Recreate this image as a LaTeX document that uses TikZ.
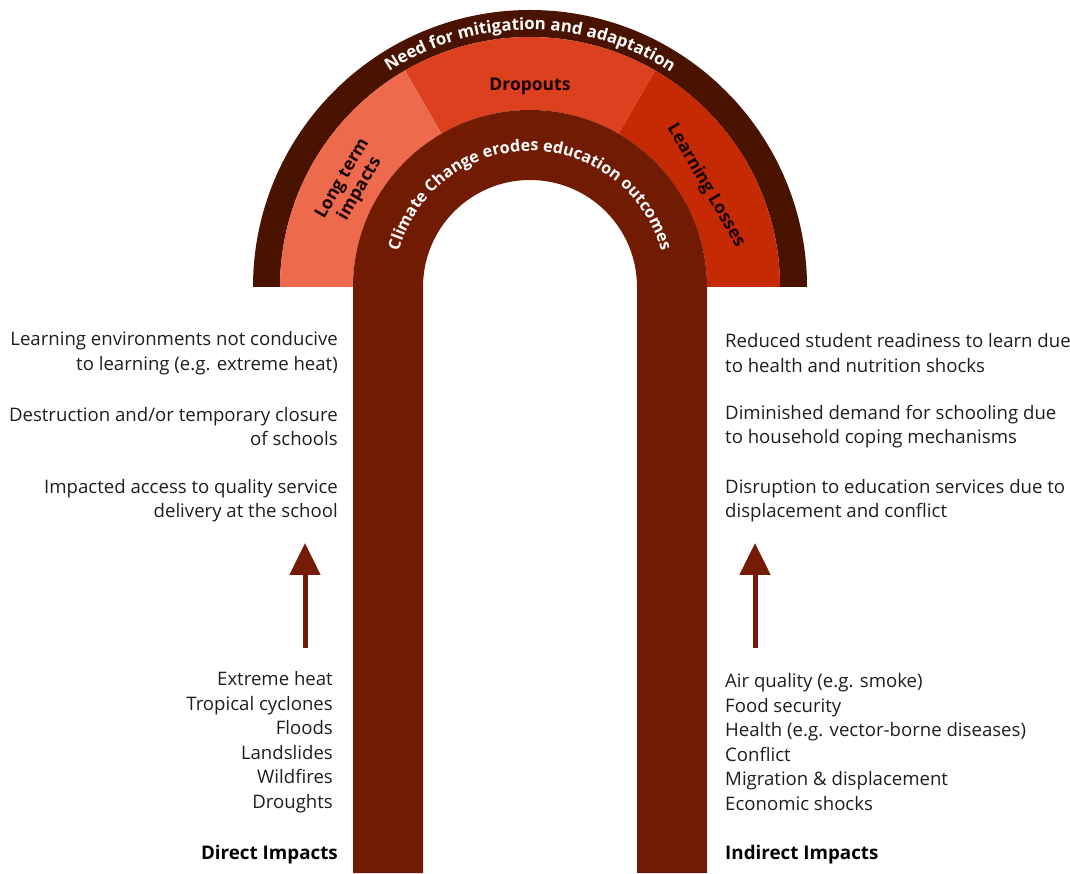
\documentclass[tikz,border=0pt]{standalone}
\usepackage{fontspec}
\setmainfont{Open Sans}
\usetikzlibrary{decorations.text,arrows.meta}
\definecolor{ringdark}{HTML}{4A1300}
\definecolor{tubebrown}{HTML}{721B03}
\definecolor{longred}{HTML}{EE6A4D}
\definecolor{dropred}{HTML}{DC401E}
\definecolor{lossred}{HTML}{C52A05}
\definecolor{arrowbrown}{HTML}{761C06}
\definecolor{textgrey}{HTML}{1E1E1E}

\begin{document}
\begin{tikzpicture}[x=1pt,y=1pt,
  sidetext/.style={font=\fontsize{18.6}{24.5}\selectfont, text=textgrey, inner sep=0pt},
  headtext/.style={font=\fontsize{18.8}{20}\selectfont\bfseries, text=black, inner sep=0pt},
  seglabel/.style={font=\fontsize{17.5}{20}\selectfont\bfseries, text=black!90!red, inner sep=0pt, align=center},
  uparrow/.style={arrowbrown, line width=5pt, -{Triangle[width=30pt,length=32pt]}},
  arctext/.style={decorate, decoration={text along path, text align=center,
    text color=white, text format delimiters={|}{|}}}]
\useasboundingbox (0,0) rectangle (1070,873);
\coordinate (C) at (530,586);

\fill[ringdark] ([shift={(180:277)}]C) arc[start angle=180,end angle=0,radius=277]
  -- ([shift={(0:250)}]C) arc[start angle=0,end angle=180,radius=250] -- cycle;
\foreach \a/\b/\c in {0/60/lossred,60/120/dropred,120/180/longred}
  \fill[\c] ([shift={(\a:250)}]C) arc[start angle=\a,end angle=\b,radius=250]
    -- ([shift={(\b:177)}]C) arc[start angle=\b,end angle=\a,radius=177] -- cycle;
\fill[tubebrown] (353,0) -- (353,586) arc[start angle=180,end angle=0,radius=177]
  -- (707,0) -- (637,0) -- (637,586) arc[start angle=0,end angle=180,radius=107]
  -- (423,0) -- cycle;

\path[arctext, decoration={text={|\fontsize{16.8}{17}\selectfont\bfseries|Need for mitigation and adaptation}}]
  ([shift={(180:257)}]C) arc[start angle=180,end angle=0,radius=257];
\path[arctext, decoration={text={|\fontsize{16.2}{17}\selectfont\bfseries|Climate Change erodes education outcomes}}]
  ([shift={(180:136)}]C) arc[start angle=180,end angle=0,radius=136];

\node[seglabel] (drop) at ([shift={(90:201)}]C) {Dropouts};
\node[seglabel, rotate=60] (long) at ([shift={(150:206)}]C) {Long term\\impacts};
\node[seglabel, rotate=-60] (loss) at ([shift={(30:203)}]C) {Learning Losses};

\node[sidetext, anchor=east, align=right] (leffA) at (338,520) {Learning environments not conducive\\to learning (e.g. extreme heat)};
\node[sidetext, anchor=east, align=right] (leffB) at (338,446.5) {Destruction and/or temporary closure\\of schools};
\node[sidetext, anchor=east, align=right] (leffC) at (338,372.5) {Impacted access to quality service\\delivery at the school};
\node[sidetext, anchor=west, align=left] (reffA) at (725,520) {Reduced student readiness to learn due\\to health and nutrition shocks};
\node[sidetext, anchor=west, align=left] (reffB) at (725,446.5) {Diminished demand for schooling due\\to household coping mechanisms};
\node[sidetext, anchor=west, align=left] (reffC) at (725,372.5) {Disruption to education services due to\\displacement and conflict};

\node[sidetext, anchor=east, align=right] (dlist) at (333,131) {Extreme heat\\Tropical cyclones\\Floods\\Landslides\\Wildfires\\Droughts};
\node[sidetext, anchor=west, align=left] (ilist) at (725,131) {Air quality (e.g. smoke)\\Food security\\Health (e.g. vector-borne diseases)\\Conflict\\Migration \& displacement\\Economic shocks};

\node[headtext, anchor=east] (dhead) at (338,18) {Direct Impacts};
\node[headtext, anchor=west] (ihead) at (725,18) {Indirect Impacts};

\coordinate (dfrom) at (305,225);
\coordinate (dto) at (305,330);
\coordinate (ifrom) at (755,225);
\coordinate (ito) at (755,330);
\draw[uparrow] (dfrom) -- (dto);
\draw[uparrow] (ifrom) -- (ito);
\end{tikzpicture}
\end{document}
